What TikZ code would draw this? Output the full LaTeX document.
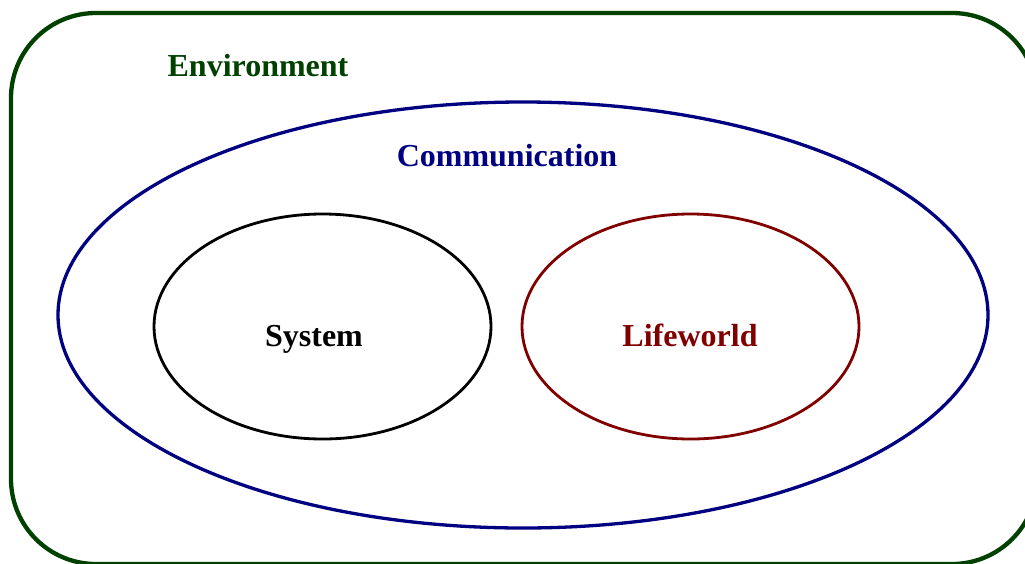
\documentclass[tikz,border=0pt]{standalone}
\usepackage{fontspec}
\setmainfont{Liberation Serif}
\definecolor{envgreen}{RGB}{0,64,0}
\definecolor{comblue}{RGB}{0,0,128}
\definecolor{lifered}{RGB}{128,0,0}
\begin{document}
\begin{tikzpicture}[x=1pt,y=-1pt,
  label/.style={font=\fontsize{32}{38}\selectfont\bfseries, inner sep=0pt, anchor=base}]
\useasboundingbox (0,0) rectangle (1025,563);
\clip (0,0) rectangle (1025,563);
% environment frame
\draw[envgreen, line width=4.3pt, rounded corners=85pt] (11,13) rectangle (1037,564);
% communication sphere
\draw[comblue, line width=3.3pt] (523,315) ellipse [x radius=465, y radius=213];
% system and lifeworld
\draw[black, line width=2.8pt] (322.5,326.5) ellipse [x radius=168.5, y radius=112.5];
\draw[lifered, line width=2.8pt] (690.5,326.5) ellipse [x radius=168.5, y radius=112.5];
\node[label, text=envgreen] (env) at (258,76) {Environment};
\node[label, text=comblue] (com) at (507,166) {Communication};
\node[label, text=black] (sys) at (314,346) {System};
\node[label, text=lifered] (life) at (690,346) {Lifeworld};
\end{tikzpicture}
\end{document}
